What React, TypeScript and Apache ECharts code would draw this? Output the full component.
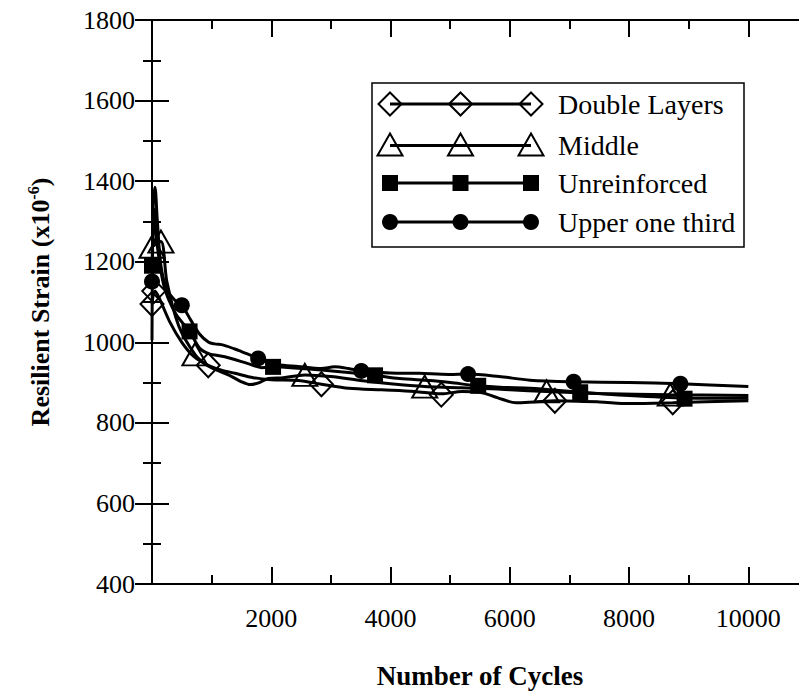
import React, { useEffect, useRef } from "react";
import * as echarts from "echarts";

// ---------- data ----------
const seriesNames = ["Double Layers", "Middle", "Unreinforced", "Upper one third"];
const xTickLabels = [2000, 4000, 6000, 8000, 10000];
const yTickLabels = [400, 600, 800, 1000, 1200, 1400, 1600, 1800];

const doubleLine: [number, number][] = [
  [0, 1095], [50, 1127], [120, 1110], [300, 1050], [500, 1000], [700, 965], [943, 943],
  [1166, 931], [1390, 923], [1700, 912], [2000, 907], [2450, 905], [2841, 896],
  [3300, 886], [3850, 882], [4400, 878], [4851, 872], [5200, 878], [5500, 876],
  [5800, 862], [6100, 850], [6400, 852], [6755, 855], [7500, 852], [8000, 848],
  [8732, 850], [10000, 855],
];
const doubleMarks: [number, number][] = [
  [0, 1095], [30, 1127], [943, 943], [2841, 896], [4851, 870], [6755, 855], [8732, 851],
];

const middleLine: [number, number][] = [
  [0, 1237], [150, 1250], [250, 1150], [450, 1040], [720, 970], [900, 945], [1100, 930],
  [1300, 918], [1500, 902], [1650, 895], [1800, 900], [1950, 910], [2200, 912],
  [2563, 919], [3000, 915], [3500, 905], [4000, 897], [4573, 890], [5000, 888],
  [5500, 886], [6000, 882], [6616, 878], [7500, 873], [8690, 870], [10000, 868],
];
const middleMarks: [number, number][] = [
  [0, 1237], [150, 1250], [720, 970], [2563, 919], [4573, 890], [6616, 878], [8690, 870],
];

const unreinforcedLine: [number, number][] = [
  [0, 1190], [40, 1330], [80, 1250], [200, 1140], [400, 1070], [630, 1027], [800, 985],
  [950, 972], [1220, 964], [1610, 947], [1840, 937], [2030, 939], [2500, 935],
  [2840, 931], [3290, 925], [3740, 918], [4150, 910], [4660, 905], [5000, 900],
  [5470, 892], [5900, 888], [6340, 886], [7180, 876], [8000, 868], [8930, 862],
  [10000, 861],
];
const unreinforcedMarks: [number, number][] = [
  [0, 1190], [630, 1027], [2030, 939], [3740, 918], [5470, 892], [7180, 876], [8930, 860],
];

const upperLine: [number, number][] = [
  [0, 1005], [20, 1340], [50, 1385], [90, 1300], [150, 1190], [250, 1130], [380, 1105],
  [500, 1092], [650, 1055], [800, 1020], [950, 1000], [1050, 996], [1200, 993],
  [1450, 980], [1650, 968], [1780, 960], [2100, 945], [2450, 940], [2840, 935],
  [3060, 939], [3290, 935], [3510, 929], [4000, 924], [4480, 923], [4980, 920],
  [5300, 921], [5820, 915], [6340, 906], [7070, 902], [8000, 900], [8860, 897],
  [10000, 890],
];
const upperMarks: [number, number][] = [
  [0, 1151], [500, 1092], [1780, 960], [3510, 929], [5300, 921], [7070, 902], [8860, 897],
];

const lines = [doubleLine, middleLine, unreinforcedLine, upperLine];
const marks = [doubleMarks, middleMarks, unreinforcedMarks, upperMarks];

// ---------- styles ----------
const SERIF = "'Liberation Serif', 'Times New Roman', serif";
const symbols = ["diamond", "triangle", "rect", "circle"];
const symbolSizes: any[] = [[23, 24], [25, 22], 16, 16];
const hollow = [true, true, false, false];

function legendGraphic() {
  const boxX = 372, boxY = 83, boxW = 372, boxH = 164;
  const rowY = [104, 145.5, 183, 222];
  const mx = [390, 460.5, 531];
  const children: any[] = [
    {
      type: "rect",
      shape: { x: boxX, y: boxY, width: boxW, height: boxH },
      style: { fill: "#fff", stroke: "#000", lineWidth: 1.5 },
    },
  ];
  seriesNames.forEach((name, i) => {
    const y = rowY[i];
    children.push({
      type: "line",
      shape: { x1: mx[0], y1: y, x2: mx[2], y2: y },
      style: { stroke: "#000", lineWidth: 3 },
    });
    mx.forEach((x) => {
      if (i === 0) {
        children.push({
          type: "polygon",
          shape: { points: [[x, y - 11.5], [x + 11.5, y], [x, y + 11.5], [x - 11.5, y]] },
          style: { fill: "none", stroke: "#000", lineWidth: 2 },
        });
      } else if (i === 1) {
        children.push({
          type: "polygon",
          shape: { points: [[x, y - 12], [x + 12.5, y + 10], [x - 12.5, y + 10]] },
          style: { fill: "none", stroke: "#000", lineWidth: 2 },
        });
      } else if (i === 2) {
        children.push({
          type: "rect",
          shape: { x: x - 8, y: y - 8, width: 16, height: 16 },
          style: { fill: "#000" },
        });
      } else {
        children.push({
          type: "circle",
          shape: { cx: x, cy: y, r: 8 },
          style: { fill: "#000" },
        });
      }
    });
    children.push({
      type: "text",
      x: 558,
      y: y,
      style: {
        text: name,
        fill: "#000",
        font: `28px ${SERIF}`,
        textAlign: "left",
        textVerticalAlign: "middle",
      },
    });
  });
  return [{ type: "group", children, z: 100 }];
}

export default function App() {
  const ref = useRef<HTMLDivElement>(null);
  useEffect(() => {
    if (!ref.current) return;
    const chart = echarts.init(ref.current, null, { renderer: "svg" });
    const axisLine = { show: true, lineStyle: { color: "#000", width: 2 } };
    const tick = { show: true, inside: true, length: 17, lineStyle: { color: "#000", width: 2 } };
    const minor = { show: true, splitNumber: 2, length: 9, lineStyle: { color: "#000", width: 2 } };
    const series: any[] = [];
    lines.forEach((d, i) => {
      series.push({
        type: "line",
        name: seriesNames[i],
        data: d,
        showSymbol: false,
        symbol: "none",
        smooth: 0.3,
        lineStyle: { color: "#000", width: 3 },
        z: 2,
      });
    });
    marks.forEach((d, i) => {
      series.push({
        type: "scatter",
        name: seriesNames[i] + " markers",
        data: d,
        symbol: symbols[i],
        symbolSize: symbolSizes[i],
        itemStyle: hollow[i]
          ? { color: "rgba(0,0,0,0)", borderColor: "#000", borderWidth: 2, opacity: 1 }
          : { color: "#000", opacity: 1 },
        z: 3,
      });
    });
    chart.setOption({
      animation: false,
      backgroundColor: "#fff",
      grid: { left: 152, top: 20, width: 656, height: 572, containLabel: false },
      xAxis: [
        {
          type: "value",
          min: 0,
          max: 11000,
          interval: 2000,
          position: "bottom",
          name: "Number of Cycles",
          nameLocation: "middle",
          nameGap: 78,
          nameTextStyle: { fontFamily: SERIF, fontSize: 27, fontWeight: "bold", color: "#000" },
          axisLine,
          axisTick: tick,
          minorTick: minor,
          splitLine: { show: false },
          axisLabel: {
            margin: 21,
            fontFamily: SERIF,
            fontSize: 26,
            color: "#000",
            formatter: (v: number) => (xTickLabels.includes(v) ? String(v) : ""),
          },
        },
        {
          type: "value",
          min: 0,
          max: 11000,
          interval: 2000,
          position: "top",
          axisLine,
          axisTick: tick,
          minorTick: minor,
          splitLine: { show: false },
          axisLabel: { show: false },
        },
      ],
      yAxis: [
        {
          type: "value",
          min: 400,
          max: 1800,
          interval: 200,
          position: "left",
          name: "{a|Resilient Strain (x10}{b|-6}{a|)}",
          nameLocation: "middle",
          nameRotate: 90,
          nameGap: 97,
          nameTextStyle: {
            rich: {
              a: { fontFamily: SERIF, fontSize: 26, fontWeight: "bold", color: "#000", lineHeight: 30 },
              b: { fontFamily: SERIF, fontSize: 16, fontWeight: "bold", color: "#000", lineHeight: 16, verticalAlign: "top" },
            },
          },
          axisLine,
          axisTick: tick,
          minorTick: minor,
          splitLine: { show: false },
          axisLabel: {
            margin: 17,
            fontFamily: SERIF,
            fontSize: 26,
            color: "#000",
            formatter: (v: number) => (yTickLabels.includes(v) ? String(v) : ""),
          },
        },
        {
          type: "value",
          min: 400,
          max: 1800,
          interval: 200,
          position: "right",
          axisLine,
          axisTick: tick,
          minorTick: minor,
          splitLine: { show: false },
          axisLabel: { show: false },
        },
      ],
      series,
      graphic: legendGraphic(),
    });
    return () => chart.dispose();
  }, []);
  return (
    <div style={{ position: "absolute", left: 0, top: 0, width: 799, height: 694, overflow: "hidden", background: "#fff" }}>
      <div ref={ref} style={{ width: 840, height: 694 }} />
    </div>
  );
}
